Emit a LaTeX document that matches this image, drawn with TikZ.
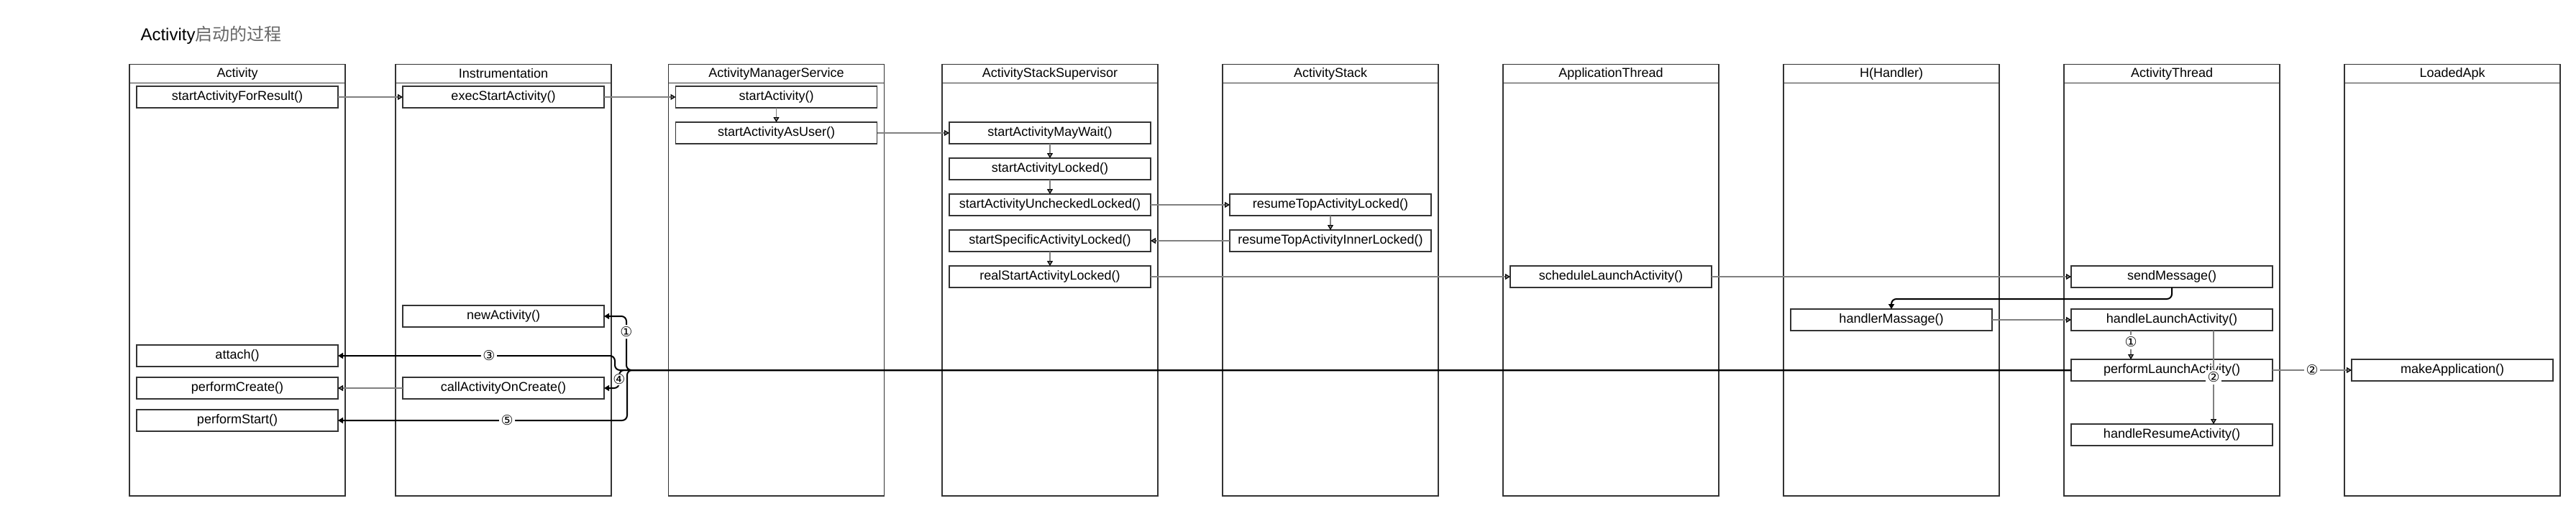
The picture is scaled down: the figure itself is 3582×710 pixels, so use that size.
\documentclass[tikz,border=0pt]{standalone}
\usepackage{fontspec}
\setmainfont{Liberation Sans}
\newfontfamily\cjkfont{Noto Sans CJK SC}
\newfontfamily\circfont{DejaVu Sans}
\usepackage{tikz}
\usetikzlibrary{arrows.meta}
\usetikzlibrary{positioning}
\definecolor{boxline}{HTML}{333333}
\definecolor{callline}{HTML}{808080}
\tikzset{
    lane/.style={
           rectangle,
           draw=boxline, line width=1.8pt,
           minimum width=300pt,
           minimum height=26pt,
           inner sep=0pt, outer sep=0pt,
           font=\fontsize{18pt}{21pt}\selectfont,
           text centered,
           },
    lanebody/.style={
           rectangle,
           draw=boxline, line width=1.8pt,
           minimum width=300pt,
           minimum height=574.5pt,
           outer sep=0pt,
           },
    method/.style={
           rectangle,
           draw=boxline, line width=1.8pt,
           fill=white,
           minimum width=280pt,
           minimum height=30pt,
           inner sep=0pt, outer sep=0pt,
           font=\fontsize{18pt}{21pt}\selectfont,
           text centered,
           },
    call/.style={
           color=callline, line width=1.2pt,
           -{Triangle[length=7pt,width=8pt,color=black]},
           },
    ret/.style={
           color=black, line width=2pt,
           rounded corners=7pt,
           -{Triangle[length=7pt,width=8pt]},
           },
    circnum/.style={
           fill=white, text=black,
           inner sep=2.5pt,
           font=\circfont\fontsize{19pt}{21pt}\selectfont,
           },
}

\begin{document}
\begin{tikzpicture}[x=1pt, y=-1pt]
	\useasboundingbox (0,0) rectangle (3582,710);

	\node[anchor=base west, font=\fontsize{24pt}{28pt}\selectfont] (title) at (192,56)
		{Activity{\cjkfont\color{black!60}启动的过程}};

	% lanes
	\node[lane] (act) at (330,102.5) {Activity};
	\node[lane, right=70pt of act] (ins) {Instrumentation};
	\node[lane, right=79.5pt of ins] (ams) {ActivityManagerService};
	\node[lane, right=80.5pt of ams] (ass) {ActivityStackSupervisor};
	\node[lane, right=90pt of ass] (stk) {ActivityStack};
	\node[lane, right=90pt of stk] (apt) {ApplicationThread};
	\node[lane, right=90pt of apt] (hdl) {H(Handler)};
	\node[lane, right=90pt of hdl] (ath) {ActivityThread};
	\node[lane, right=90pt of ath] (apk) {LoadedApk};

	\node[lanebody, below=0pt of act] (actb) {};
	\node[lanebody, below=0pt of ins] (insb) {};
	\node[lanebody, below=0pt of ams] (amsb) {};
	\node[lanebody, below=0pt of ass] (assb) {};
	\node[lanebody, below=0pt of stk] (stkb) {};
	\node[lanebody, below=0pt of apt] (aptb) {};
	\node[lanebody, below=0pt of hdl] (hdlb) {};
	\node[lanebody, below=0pt of ath] (athb) {};
	\node[lanebody, below=0pt of apk] (apkb) {};

	% Activity
	\node[method, below=4.5pt of act] (sfr) {startActivityForResult()};
	\node[method, below=330pt of sfr] (att) {attach()};
	\node[method, below=15pt of att] (pc) {performCreate()};
	\node[method, below=15pt of pc] (pst) {performStart()};

	% Instrumentation
	\node[method, below=4.5pt of ins] (esa) {execStartActivity()};
	\node[method, below=275pt of esa] (nact) {newActivity()};
	\node[method, below=70pt of nact] (caoc) {callActivityOnCreate()};

	% ActivityManagerService
	\node[method, below=4.5pt of ams] (sa) {startActivity()};
	\node[method, below=20pt of sa] (sau) {startActivityAsUser()};

	% ActivityStackSupervisor
	\node[method, below=54.5pt of ass] (samw) {startActivityMayWait()};
	\node[method, below=20pt of samw] (sal) {startActivityLocked()};
	\node[method, below=20pt of sal] (sacl) {startActivityUncheckedLocked()};
	\node[method, below=20pt of sacl] (ssal) {startSpecificActivityLocked()};
	\node[method, below=20pt of ssal] (rsal) {realStartActivityLocked()};

	% ActivityStack
	\node[method, right=110pt of sacl] (rtal) {resumeTopActivityLocked()};
	\node[method, below=20pt of rtal] (rtail) {resumeTopActivityInnerLocked()};

	% ApplicationThread, H, ActivityThread, LoadedApk
	\node[method, right=500pt of rsal] (sla) {scheduleLaunchActivity()};
	\node[method, right=500pt of sla] (smsg) {sendMessage()};
	\node[method, below=30pt of smsg] (hla) {handleLaunchActivity()};
	\node[method, left=110pt of hla] (hm) {handlerMassage()};
	\node[method, below=40pt of hla] (pla) {performLaunchActivity()};
	\node[method, below=60pt of pla] (hra) {handleResumeActivity()};
	\node[method, right=110pt of pla] (mapp) {makeApplication()};


	\path[call]	(sfr) edge (esa)
				(esa) edge (sa)
				(sa) edge (sau)
				(sau) edge (samw)
				(samw) edge (sal)
				(sal) edge (sacl)
				(sacl) edge (rtal)
				(rtal) edge (rtail)
				(rtail) edge (ssal)
				(ssal) edge (rsal)
				(rsal) edge (sla)
				(sla) edge (smsg)
				(hm) edge (hla)
				(caoc) edge (pc);

	\path[call]	([xshift=-57pt]hla.south) edge node[circnum, pos=0.4] {①} ([xshift=-57pt]pla.north)
				([xshift=58pt]hla.south) edge node[circnum] {②} ([xshift=58pt]hra.north)
				(pla) edge node[circnum] {②} (mapp);

	\draw[ret] (smsg.south) -- ++(0,16) -| (hm.north);

	\draw[ret] (pla.west) -| ([xshift=31pt]nact.east) node[circnum, pos=0.855] {①} -- (nact.east);
	\draw[ret] (pla.west) -| ([xshift=385pt]att.east) -- (att.east) node[circnum, pos=0.455] {③};
	\draw[ret] (pla.west) -| ([xshift=21pt]caoc.east) node[circnum, pos=0.76, inner sep=1pt] {④} -- (caoc.east);
	\draw[ret] (pla.west) -| ([xshift=402pt]pst.east) -- (pst.east) node[circnum, pos=0.415] {⑤};

\end{tikzpicture}
\end{document}
